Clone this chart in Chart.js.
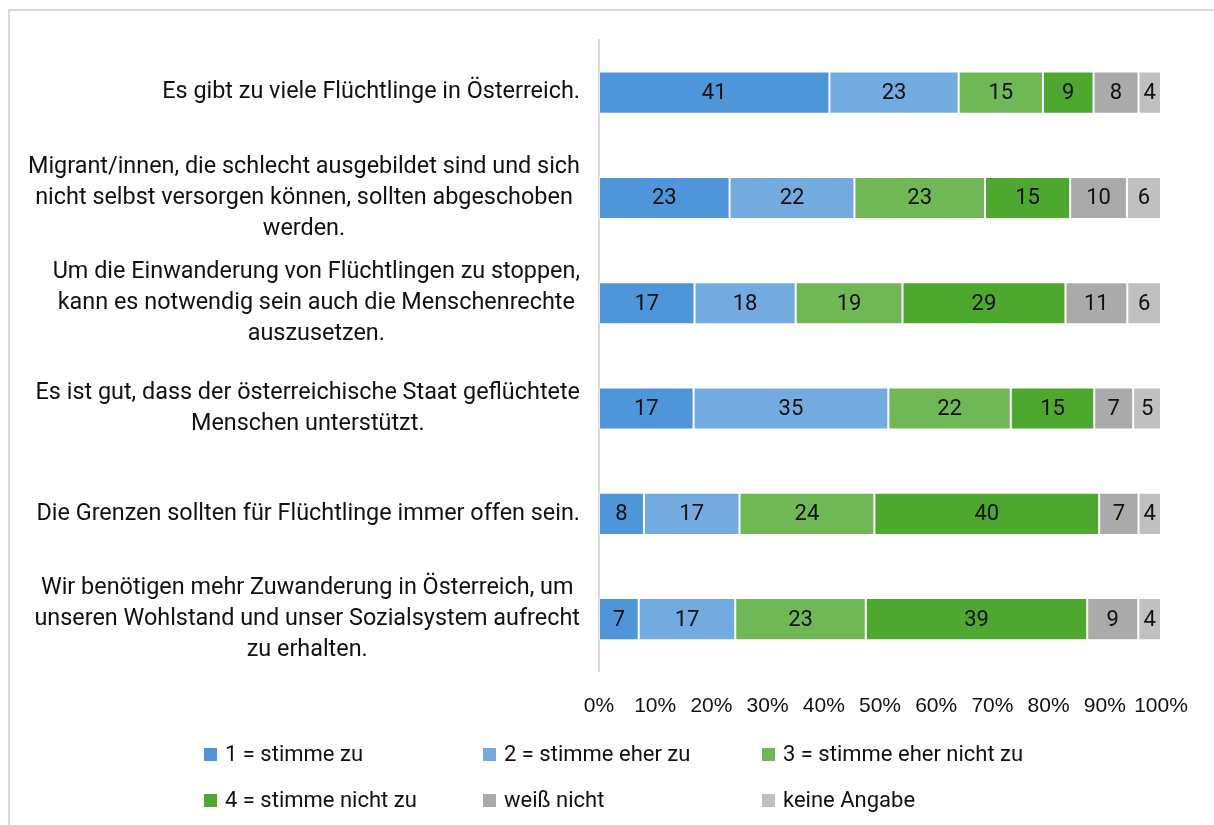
<!DOCTYPE html>
<html>
<head>
<meta charset="utf-8">
<script src="https://cdn.jsdelivr.net/npm/chart.js@4/dist/chart.umd.min.js"></script>
<style>
  body { margin: 0; background: #fff; }
  #wrap { position: relative; width: 1214px; height: 825px; overflow: hidden; }
  #frame { position: absolute; left: 8px; top: 9px; width: 1210px; height: 900px; border: 2px solid #d9d9d9; box-sizing: border-box; }
  canvas { position: absolute; left: 0; top: 0; }
  #legend { position: absolute; left: 0; top: 0; font-family: Roboto, sans-serif; font-size: 22px; color: #111; }
  .item { position: absolute; white-space: nowrap; line-height: 26px; }
  .box { display: inline-block; width: 13px; height: 13px; margin-right: 8px; vertical-align: 0px; }
</style>
</head>
<body>
<div id="wrap">
  <div id="frame"></div>
  <canvas id="myChart" width="1214" height="825"></canvas>
  <div id="legend"></div>
</div>
<script>
// Aussagen (Zeilen)
var statements = [
    ["Es gibt zu viele Flüchtlinge in Österreich."],
    ["Migrant/innen, die schlecht ausgebildet sind und sich", "nicht selbst versorgen können, sollten abgeschoben", "werden."],
    ["Um die Einwanderung von Flüchtlingen zu stoppen,", "kann es notwendig sein auch die Menschenrechte", "auszusetzen."],
    ["Es ist gut, dass der österreichische Staat geflüchtete", "Menschen unterstützt."],
    ["Die Grenzen sollten für Flüchtlinge immer offen sein."],
    ["Wir benötigen mehr Zuwanderung in Österreich, um", "unseren Wohlstand und unser Sozialsystem aufrecht", "zu erhalten."]
]

// Antworten in Prozent
var stimmeZu          = [41, 23, 17, 17, 8, 7]
var stimmeEherZu      = [23, 22, 18, 35, 17, 17]
var stimmeEherNichtZu = [15, 23, 19, 22, 24, 23]
var stimmeNichtZu     = [9, 15, 29, 15, 40, 39]
var weissNicht        = [8, 10, 11, 7, 7, 9]
var keineAngabe       = [4, 6, 6, 5, 4, 4]

var seriesNames = ["1 = stimme zu", "2 = stimme eher zu", "3 = stimme eher nicht zu", "4 = stimme nicht zu", "weiß nicht", "keine Angabe"]
var xTicks = ["0%", "10%", "20%", "30%", "40%", "50%", "60%", "70%", "80%", "90%", "100%"]

var colors = ["#4e95d9", "#73abe1", "#70b856", "#4ea72e", "#aaaaaa", "#c0c0c0"]
var allSeries = [stimmeZu, stimmeEherZu, stimmeEherNichtZu, stimmeNichtZu, weissNicht, keineAngabe]

// auf 100% normieren (gestapelt wie in Excel)
var totals = statements.map(function(s, i) {
    return allSeries.reduce(function(sum, arr) { return sum + arr[i] }, 0)
})

var datasets = allSeries.map(function(arr, k) {
    return {
        label: seriesNames[k],
        raw: arr,
        data: arr.map(function(v, i) { return v / totals[i] * 100 }),
        backgroundColor: colors[k],
        borderColor: "rgba(255,255,255,0.45)",
        borderWidth: 1,
        borderSkipped: false,
        barPercentage: 0.4,
        categoryPercentage: 1
    }
})

var font = "Roboto, sans-serif"

// Werte in die Balken schreiben + Aussagen links zeichnen
var labelPlugin = {
    id: "labels",
    afterDatasetsDraw: function(chart) {
        var ctx = chart.ctx
        ctx.save()
        ctx.font = "22px " + font
        ctx.fillStyle = "#111"
        ctx.textAlign = "center"
        ctx.textBaseline = "middle"
        chart.data.datasets.forEach(function(ds, k) {
            chart.getDatasetMeta(k).data.forEach(function(bar, i) {
                var cx = (bar.x + bar.base) / 2
                ctx.fillText(ds.raw[i], cx, bar.y + 1)
            })
        })
        // Aussagen
        ctx.font = "23.4px " + font
        var yScale = chart.scales.y
        var right = chart.chartArea.left - 19
        var lineH = 31
        statements.forEach(function(lines, i) {
            var w = Math.max.apply(null, lines.map(function(l) { return ctx.measureText(l).width }))
            var cx = right - w / 2
            var cy = yScale.getPixelForValue(i)
            lines.forEach(function(l, j) {
                ctx.fillText(l, cx, cy + (j - (lines.length - 1) / 2) * lineH)
            })
        })
        ctx.restore()
    }
}

var ctx = document.getElementById("myChart").getContext("2d")
var myChart = new Chart(ctx, {
    type: "bar",
    data: {
        labels: statements,
        datasets: datasets
    },
    options: {
        indexAxis: "y",
        responsive: false,
        animation: false,
        layout: { padding: { left: 10, right: 53, top: 40, bottom: 84 } },
        plugins: {
            legend: { display: false },
            tooltip: { enabled: false }
        },
        scales: {
            x: {
                stacked: true,
                min: 0,
                max: 100,
                grid: { display: false, drawTicks: false },
                border: { display: false },
                ticks: {
                    stepSize: 10,
                    autoSkip: false,
                    maxRotation: 0,
                    padding: 22,
                    color: "#111",
                    font: { family: "'Liberation Sans', Arial, sans-serif", size: 21 },
                    callback: function(value, index) { return xTicks[index] }
                }
            },
            y: {
                stacked: true,
                grid: { display: false, drawTicks: false },
                border: { display: true, color: "#d9d9d9", width: 2 },
                ticks: { display: false },
                afterFit: function(scale) { scale.width = 589 }
            }
        }
    },
    plugins: [labelPlugin]
})

// Legende im Raster wie im Original
var legendPos = [[204, 754], [483, 754], [762, 754], [204, 800], [483, 800], [762, 800]]
var legend = document.getElementById("legend")
datasets.forEach(function(ds, k) {
    var el = document.createElement("div")
    el.className = "item"
    el.style.left = legendPos[k][0] + "px"
    el.style.top = (legendPos[k][1] - 13) + "px"
    el.innerHTML = '<span class="box" style="background:' + ds.backgroundColor + '"></span>' + ds.label
    legend.appendChild(el)
})
</script>
</body>
</html>
